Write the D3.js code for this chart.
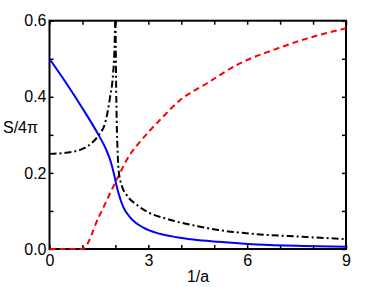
<!DOCTYPE html>
<html><head><meta charset="utf-8">
<script src="https://cdn.jsdelivr.net/npm/d3@7"></script>
<style>
body{margin:0;background:#fff;}
text{font-family:"Liberation Sans",Arial,Helvetica,sans-serif;}
</style></head>
<body><svg id="c" width="382" height="287"></svg>
<script>
// Data
const blueX = [0, 0.5, 1.0, 1.5, 1.7, 1.85, 1.95, 2.02, 2.1, 2.24, 2.44, 2.85, 3.35, 3.86, 4.36, 5.12, 6.29, 7.7, 9];
const blueY = [0.5, 0.437, 0.370, 0.298, 0.265, 0.232, 0.200, 0.172, 0.145, 0.110, 0.084, 0.056, 0.040, 0.031, 0.025, 0.019, 0.012, 0.008, 0.006];
const redX = [0, 1.0, 1.5, 2.0, 2.44, 2.75, 3.35, 3.96, 4.77, 5.78, 6.79, 7.81, 9];
const redY = [0, 0, 0.085, 0.175, 0.248, 0.282, 0.339, 0.391, 0.435, 0.488, 0.523, 0.553, 0.580];
const blackLeftX = [0, 0.5, 1.0, 1.3, 1.5, 1.7, 1.84, 1.93, 1.97, 1.995];
const blackLeftY = [0.250, 0.253, 0.263, 0.280, 0.300, 0.335, 0.40, 0.46, 0.52, 0.60];
const blackRightX = [2.005, 2.02, 2.04, 2.07, 2.1, 2.2, 2.34, 2.65, 3.05, 3.5, 3.86, 4.5, 5.12, 6.29, 7.7, 9];
const blackRightY = [0.60, 0.45, 0.34, 0.25, 0.205, 0.165, 0.142, 0.116, 0.094, 0.081, 0.072, 0.060, 0.050, 0.039, 0.032, 0.026];
const xTicks = [0,1,2,3,4,5,6,7,8,9];
const xLabels = [0,3,6,9];
const yTicks = [0,0.1,0.2,0.3,0.4,0.5,0.6];
const yLabels = [0,0.2,0.4,0.6];

const svg = d3.select("#c");
const x = d3.scaleLinear().domain([0,9]).range([49.5,346]);
const y = d3.scaleLinear().domain([0,0.6]).range([249,20.7]);

svg.append("defs").append("clipPath").attr("id","clip")
  .append("rect").attr("x",x(0)).attr("y",y(0.6)).attr("width",x(9)-x(0)).attr("height",y(0)-y(0.6)+1.5);

const fmtX = d => xLabels.includes(d) ? String(d) : "";
const fmtY = d => yLabels.some(v=>Math.abs(v-d)<1e-9) ? d3.format(".1f")(d) : "";

function style(g){
  g.select(".domain").remove();
  g.selectAll(".tick line").attr("stroke","#000").attr("stroke-width",1.5);
  g.selectAll(".tick text").attr("fill","#000").style("font-size","16px");
}
svg.append("g").attr("transform",`translate(0,${y(0)})`)
  .call(d3.axisBottom(x).tickValues(xTicks).tickFormat(fmtX).tickSizeInner(-4).tickSizeOuter(0).tickPadding(6)).call(style);
svg.append("g").attr("transform",`translate(0,${y(0.6)})`)
  .call(d3.axisTop(x).tickValues(xTicks).tickFormat("").tickSizeInner(-4).tickSizeOuter(0)).call(style);
svg.append("g").attr("transform",`translate(${x(0)},0)`)
  .call(d3.axisLeft(y).tickValues(yTicks).tickFormat(fmtY).tickSizeInner(-4).tickSizeOuter(0).tickPadding(3)).call(style);
svg.append("g").attr("transform",`translate(${x(9)},0)`)
  .call(d3.axisRight(y).tickValues(yTicks).tickFormat("").tickSizeInner(-4).tickSizeOuter(0)).call(style);

svg.append("rect").attr("x",x(0)).attr("y",y(0.6)).attr("width",x(9)-x(0)).attr("height",y(0)-y(0.6))
  .attr("fill","none").attr("stroke","#000").attr("stroke-width",2);

const line = d3.line().x(d=>x(d[0])).y(d=>y(d[1])).curve(d3.curveMonotoneX);
const plot = svg.append("g").attr("clip-path","url(#clip)");
plot.append("path").datum(d3.zip(blueX,blueY)).attr("d",line)
  .attr("fill","none").attr("stroke","#0000ff").attr("stroke-width",2);
plot.append("path").datum(d3.zip(redX,redY)).attr("d",line)
  .attr("fill","none").attr("stroke","#ff0000").attr("stroke-width",2).attr("stroke-dasharray","6,4");
[d3.zip(blackLeftX,blackLeftY), d3.zip(blackRightX,blackRightY)].forEach(dat=>{
  plot.append("path").datum(dat).attr("d",line)
    .attr("fill","none").attr("stroke","#000").attr("stroke-width",2).attr("stroke-dasharray","7,3,2,3");
});

svg.append("text").attr("x",198).attr("y",282).attr("text-anchor","middle").style("font-size","16px").text("1/a");
svg.append("text").attr("x",3).attr("y",133.3).attr("text-anchor","start").style("font-size","16px").text("S/4π");
</script></body></html>
